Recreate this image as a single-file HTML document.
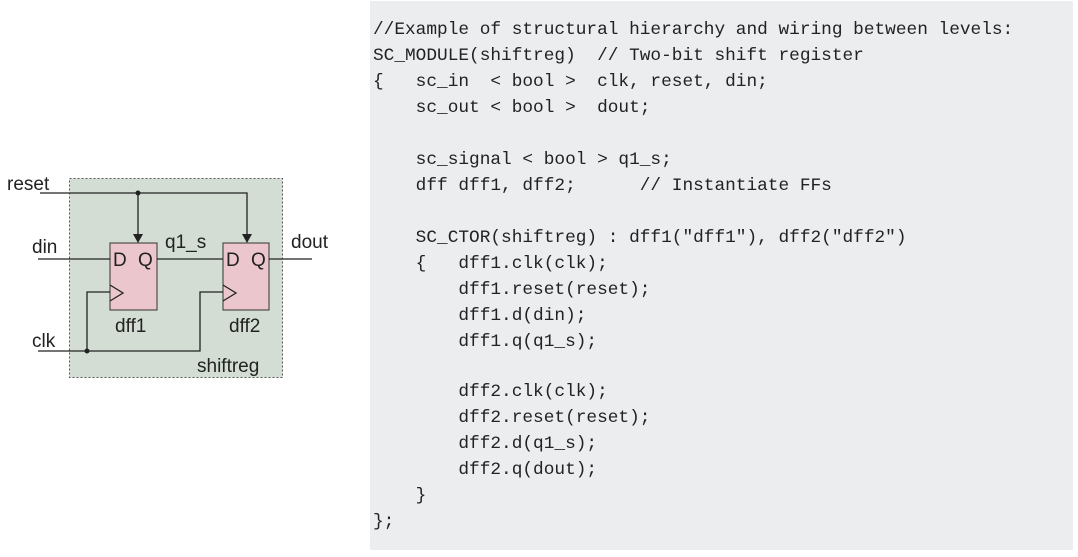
<!DOCTYPE html>
<html><head><meta charset="utf-8"><style>
html,body{margin:0;padding:0;background:#fff;width:1078px;height:557px;overflow:hidden;position:relative}
#code{position:absolute;left:370px;top:1px;width:703px;height:549px;background:#ecedef}
.l{position:absolute;left:373px;font-family:"Liberation Mono",monospace;font-size:17.8px;color:#222;white-space:pre;line-height:20px}
</style></head><body>
<div id="code"></div>
<div class="l" style="top:20px">//Example of structural hierarchy and wiring between levels:</div>
<div class="l" style="top:46px">SC_MODULE(shiftreg)  // Two-bit shift register</div>
<div class="l" style="top:72px">{   sc_in  &lt; bool &gt;  clk, reset, din;</div>
<div class="l" style="top:98px">    sc_out &lt; bool &gt;  dout;</div>
<div class="l" style="top:150px">    sc_signal &lt; bool &gt; q1_s;</div>
<div class="l" style="top:176px">    dff dff1, dff2;      // Instantiate FFs</div>
<div class="l" style="top:228px">    SC_CTOR(shiftreg) : dff1("dff1"), dff2("dff2")</div>
<div class="l" style="top:254px">    {   dff1.clk(clk);</div>
<div class="l" style="top:280px">        dff1.reset(reset);</div>
<div class="l" style="top:306px">        dff1.d(din);</div>
<div class="l" style="top:332px">        dff1.q(q1_s);</div>
<div class="l" style="top:382px">        dff2.clk(clk);</div>
<div class="l" style="top:408px">        dff2.reset(reset);</div>
<div class="l" style="top:434px">        dff2.d(q1_s);</div>
<div class="l" style="top:460px">        dff2.q(dout);</div>
<div class="l" style="top:486px">    }</div>
<div class="l" style="top:512px">};</div>
<svg style="position:absolute;left:0;top:0" width="370" height="557" font-family="Liberation Sans, sans-serif" font-size="19" fill="#222">
<rect x="69.5" y="178.5" width="213" height="199" fill="#d3ddd3" stroke="#555" stroke-dasharray="2,2"/>
<rect x="110" y="243" width="47" height="67" fill="#ebc6cd" stroke="#333"/>
<rect x="223" y="243" width="46" height="67" fill="#ebc6cd" stroke="#333"/>
<g stroke="#222" stroke-width="1.3" fill="none">
<path d="M40 193H247V236"/>
<path d="M138 193V236"/>
<path d="M38 259H110M157 259H223M269 259H312"/>
<path d="M38 351H200V292H223M87 351V292H110"/>
<path d="M110 285L123 293L110 301M223 285L236 293L223 301"/>
</g>
<circle cx="138" cy="193" r="2.5" fill="#222"/>
<circle cx="87" cy="351" r="2.5" fill="#222"/>
<path d="M133 234L143 234L138 243Z M242 234L252 234L247 243Z" fill="#222"/>
<text x="7" y="190">reset</text>
<text x="32" y="253">din</text>
<text x="32" y="347">clk</text>
<text x="291" y="248">dout</text>
<text x="165" y="248">q1_s</text>
<text x="113" y="266">D</text><text x="138" y="266">Q</text>
<text x="226" y="266">D</text><text x="251" y="266">Q</text>
<text x="115" y="332">dff1</text>
<text x="229" y="332">dff2</text>
<text x="197" y="372">shiftreg</text>
</svg>
</body></html>
